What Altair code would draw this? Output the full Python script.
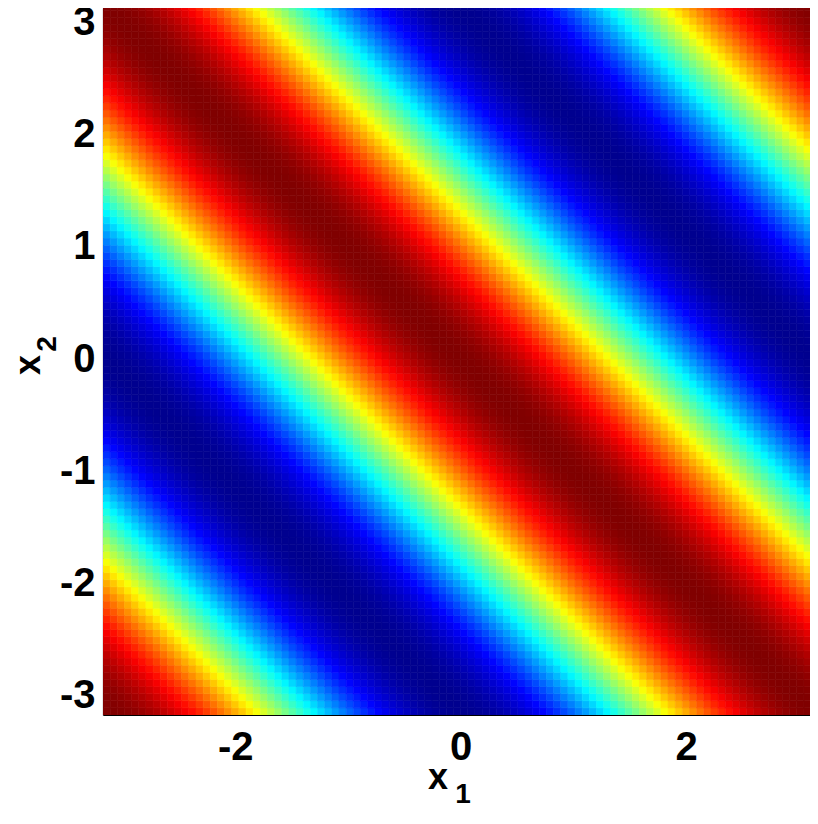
import altair as alt
import numpy as np
import pandas as pd

# 100 x 100 image grid spanning [-pi, pi] on both axes
N = 100
grid = np.linspace(-np.pi, np.pi, N)
step = grid[1] - grid[0]

# colour value along the diagonal direction (x1 + x2), one half period
profile = [1.000, 0.998, 0.992, 0.982, 0.968, 0.950, 0.928, 0.903, 0.874, 0.841,
           0.805, 0.766, 0.724, 0.679, 0.631, 0.580, 0.527, 0.472, 0.415, 0.357,
           0.297, 0.236, 0.174, 0.111, 0.048, -0.016, -0.079, -0.142, -0.205, -0.266,
           -0.327, -0.386, -0.444, -0.500, -0.554, -0.606, -0.655, -0.701, -0.745, -0.786,
           -0.824, -0.858, -0.889, -0.916, -0.940, -0.959, -0.975, -0.987, -0.995, -1.000]

x_ticks = [-2, 0, 2]
y_ticks = [-3, -2, -1, 0, 1, 2, 3]

jet_domain = [-1, -0.75, -0.25, 0.25, 0.75, 1]
jet_colors = ["#00008f", "#0000ff", "#00ffff", "#ffff00", "#ff0000", "#800000"]

period = N - 1
rows = []
for i in range(N):
    for j in range(N):
        k = (i + j) % period
        rows.append({
            "x_lo": grid[i] - step / 2, "x_hi": grid[i] + step / 2,
            "y_lo": grid[j] - step / 2, "y_hi": grid[j] + step / 2,
            "z": profile[min(k, period - k)],
        })
df = pd.DataFrame(rows)

half = np.pi + step / 2
color_scale = alt.Scale(domain=jet_domain, range=jet_colors, interpolate="rgb")
FONT = "Liberation Sans"

axis_common = dict(
    title=None, labelExpr="'' + datum.value", labelFontSize=40,
    labelFont=FONT, labelFontWeight="bold", labelColor="black",
    tickSize=0, domainColor="black", domainWidth=1.2, grid=False,
)

heat = alt.Chart(df).mark_rect(clip=True, strokeWidth=0.6).encode(
    x=alt.X("x_lo:Q", scale=alt.Scale(domain=[-half, 3.10], nice=False, zero=False),
            axis=alt.Axis(values=x_ticks, labelPadding=12, **axis_common)),
    x2="x_hi:Q",
    y=alt.Y("y_lo:Q", scale=alt.Scale(domain=[-half, 3.13], nice=False, zero=False),
            axis=alt.Axis(values=y_ticks, labelPadding=8, **axis_common)),
    y2="y_hi:Q",
    color=alt.Color("z:Q", scale=color_scale, legend=None),
    stroke=alt.Stroke("z:Q", scale=color_scale, legend=None),
)

def label(txt, px, py, size, angle=0):
    return alt.Chart(pd.DataFrame({"t": [txt]})).mark_text(
        font=FONT, fontWeight="bold", fontSize=size, color="black",
        angle=angle, align="center", baseline="middle",
    ).encode(text="t:N", x=alt.value(px), y=alt.value(py))

chart = alt.layer(
    heat,
    label("x", 335, 770, 36),
    label("1", 360, 787, 28),
    label("x", -74, 357, 36, angle=270),
    label("2", -55, 336, 28, angle=270),
).properties(
    width=707, height=707,
    autosize="none",
    padding={"left": 95, "top": 0, "right": 0, "bottom": 96},
).configure_view(stroke=None)

chart.save("out.html", embed_options={"renderer": "svg", "actions": False})
